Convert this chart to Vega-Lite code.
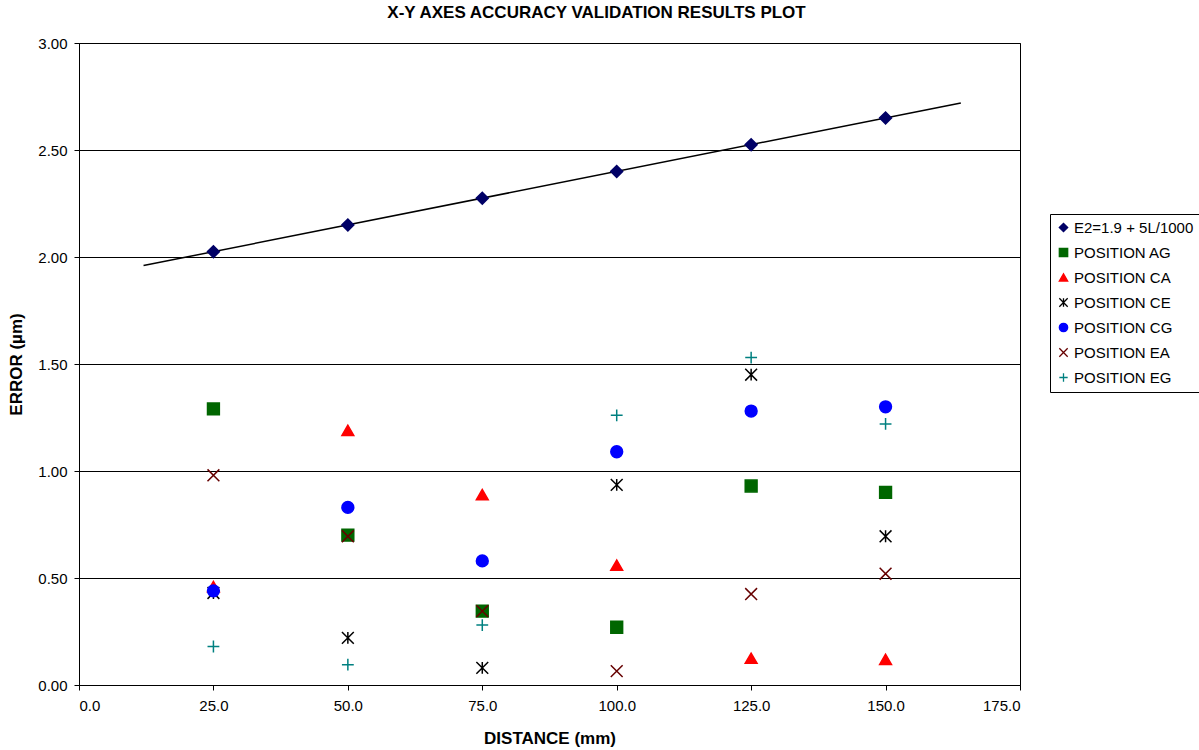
{
  "$schema": "https://vega.github.io/schema/vega-lite/v6.json",
  "width": 941,
  "height": 642,
  "autosize": "none",
  "padding": {"left": 79, "top": 43, "right": 179, "bottom": 65},
  "background": "white",
  "config": {
    "font": "Liberation Sans",
    "view": {"stroke": "black", "strokeWidth": 1},
    "axis": {
      "labelFont": "Liberation Sans",
      "titleFont": "Liberation Sans",
      "labelColor": "black",
      "titleColor": "black",
      "domainColor": "black",
      "tickColor": "black",
      "gridColor": "black",
      "gridOpacity": 1,
      "gridWidth": 1
    }
  },
  "title": {
    "text": "X-Y AXES ACCURACY VALIDATION RESULTS PLOT",
    "font": "Liberation Sans",
    "fontSize": 17,
    "fontWeight": "bold",
    "color": "black",
    "anchor": "middle",
    "dx": 47,
    "offset": 14
  },
  "layer": [
    {
      "data": {"values": [
        {"distance": 12, "error": 1.96},
        {"distance": 164, "error": 2.72}
      ]},
      "mark": {"type": "line", "color": "black", "strokeWidth": 1.5},
      "encoding": {
        "x": {"field": "distance", "type": "quantitative"},
        "y": {"field": "error", "type": "quantitative"}
      }
    },
    {
      "data": {"values": [
        {"series": "E2=1.9 + 5L/1000", "distance": 25, "error": 2.025},
        {"series": "E2=1.9 + 5L/1000", "distance": 50, "error": 2.15},
        {"series": "E2=1.9 + 5L/1000", "distance": 75, "error": 2.275},
        {"series": "E2=1.9 + 5L/1000", "distance": 100, "error": 2.4},
        {"series": "E2=1.9 + 5L/1000", "distance": 125, "error": 2.525},
        {"series": "E2=1.9 + 5L/1000", "distance": 150, "error": 2.65},
        {"series": "POSITION AG", "distance": 25, "error": 1.29},
        {"series": "POSITION AG", "distance": 50, "error": 0.70},
        {"series": "POSITION AG", "distance": 75, "error": 0.345},
        {"series": "POSITION AG", "distance": 100, "error": 0.27},
        {"series": "POSITION AG", "distance": 125, "error": 0.93},
        {"series": "POSITION AG", "distance": 150, "error": 0.90},
        {"series": "POSITION CA", "distance": 25, "error": 0.46},
        {"series": "POSITION CA", "distance": 50, "error": 1.19},
        {"series": "POSITION CA", "distance": 75, "error": 0.89},
        {"series": "POSITION CA", "distance": 100, "error": 0.56},
        {"series": "POSITION CA", "distance": 125, "error": 0.125},
        {"series": "POSITION CA", "distance": 150, "error": 0.12},
        {"series": "POSITION CE", "distance": 25, "error": 0.43},
        {"series": "POSITION CE", "distance": 50, "error": 0.22},
        {"series": "POSITION CE", "distance": 75, "error": 0.08},
        {"series": "POSITION CE", "distance": 100, "error": 0.935},
        {"series": "POSITION CE", "distance": 125, "error": 1.45},
        {"series": "POSITION CE", "distance": 150, "error": 0.695},
        {"series": "POSITION CG", "distance": 25, "error": 0.44},
        {"series": "POSITION CG", "distance": 50, "error": 0.83},
        {"series": "POSITION CG", "distance": 75, "error": 0.58},
        {"series": "POSITION CG", "distance": 100, "error": 1.09},
        {"series": "POSITION CG", "distance": 125, "error": 1.28},
        {"series": "POSITION CG", "distance": 150, "error": 1.30},
        {"series": "POSITION EA", "distance": 25, "error": 0.98},
        {"series": "POSITION EA", "distance": 50, "error": 0.695},
        {"series": "POSITION EA", "distance": 75, "error": 0.345},
        {"series": "POSITION EA", "distance": 100, "error": 0.065},
        {"series": "POSITION EA", "distance": 125, "error": 0.425},
        {"series": "POSITION EA", "distance": 150, "error": 0.52},
        {"series": "POSITION EG", "distance": 25, "error": 0.18},
        {"series": "POSITION EG", "distance": 50, "error": 0.095},
        {"series": "POSITION EG", "distance": 75, "error": 0.28},
        {"series": "POSITION EG", "distance": 100, "error": 1.26},
        {"series": "POSITION EG", "distance": 125, "error": 1.53},
        {"series": "POSITION EG", "distance": 150, "error": 1.22}
      ]},
      "mark": {"type": "point", "size": 140, "strokeWidth": 1.5, "opacity": 1},
      "encoding": {
        "x": {
          "field": "distance", "type": "quantitative",
          "scale": {"domain": [0, 175], "nice": false, "zero": true},
          "axis": {
            "title": "DISTANCE (mm)",
            "values": [0, 25, 50, 75, 100, 125, 150, 175],
            "format": ".1f",
            "grid": false,
            "labelFontSize": 15,
            "labelPadding": 8,
            "tickSize": 5,
            "titleFontSize": 17,
            "titleFontWeight": "bold",
            "titlePadding": 17
          }
        },
        "y": {
          "field": "error", "type": "quantitative",
          "scale": {"domain": [0, 3], "nice": false},
          "axis": {
            "title": "ERROR (µm)",
            "values": [0, 0.5, 1, 1.5, 2, 2.5, 3],
            "format": ".2f",
            "grid": true,
            "labelFontSize": 15,
            "labelPadding": 7,
            "tickSize": 5,
            "titleFontSize": 17,
            "titleFontWeight": "bold",
            "titlePadding": 12
          }
        },
        "shape": {
          "field": "series", "type": "nominal",
          "scale": {
            "domain": ["E2=1.9 + 5L/1000", "POSITION AG", "POSITION CA", "POSITION CE", "POSITION CG", "POSITION EA", "POSITION EG"],
            "range": ["diamond", "square", "triangle-up", "M-1,-1L1,1M-1,1L1,-1M0,-1L0,1", "circle", "M-1,-1L1,1M-1,1L1,-1", "M-1,0L1,0M0,-1L0,1"]
          },
          "legend": {
            "title": null,
            "orient": "none",
            "legendX": 971,
            "legendY": 171,
            "labelFontSize": 15,
            "labelColor": "black",
            "labelFont": "Liberation Sans",
            "symbolSize": 70,
            "symbolStrokeWidth": 1.3,
            "rowPadding": 9,
            "labelOffset": 3,
            "padding": 6,
            "strokeColor": "black",
            "fillColor": "white"
          }
        },
        "fill": {
          "field": "series", "type": "nominal",
          "scale": {
            "domain": ["E2=1.9 + 5L/1000", "POSITION AG", "POSITION CA", "POSITION CE", "POSITION CG", "POSITION EA", "POSITION EG"],
            "range": ["#000066", "#006600", "#ff0000", "transparent", "#0000ff", "transparent", "transparent"]
          },
          "legend": {
            "title": null,
            "orient": "none",
            "legendX": 971,
            "legendY": 171,
            "labelFontSize": 15,
            "labelColor": "black",
            "labelFont": "Liberation Sans",
            "symbolSize": 70,
            "symbolStrokeWidth": 1.3,
            "rowPadding": 9,
            "labelOffset": 3,
            "padding": 6,
            "strokeColor": "black",
            "fillColor": "white"
          }
        },
        "stroke": {
          "field": "series", "type": "nominal",
          "scale": {
            "domain": ["E2=1.9 + 5L/1000", "POSITION AG", "POSITION CA", "POSITION CE", "POSITION CG", "POSITION EA", "POSITION EG"],
            "range": ["#000066", "#006600", "#ff0000", "#000000", "#0000ff", "#660000", "#008080"]
          },
          "legend": {
            "title": null,
            "orient": "none",
            "legendX": 971,
            "legendY": 171,
            "labelFontSize": 15,
            "labelColor": "black",
            "labelFont": "Liberation Sans",
            "symbolSize": 70,
            "symbolStrokeWidth": 1.3,
            "rowPadding": 9,
            "labelOffset": 3,
            "padding": 6,
            "strokeColor": "black",
            "fillColor": "white"
          }
        }
      }
    }
  ]
}
